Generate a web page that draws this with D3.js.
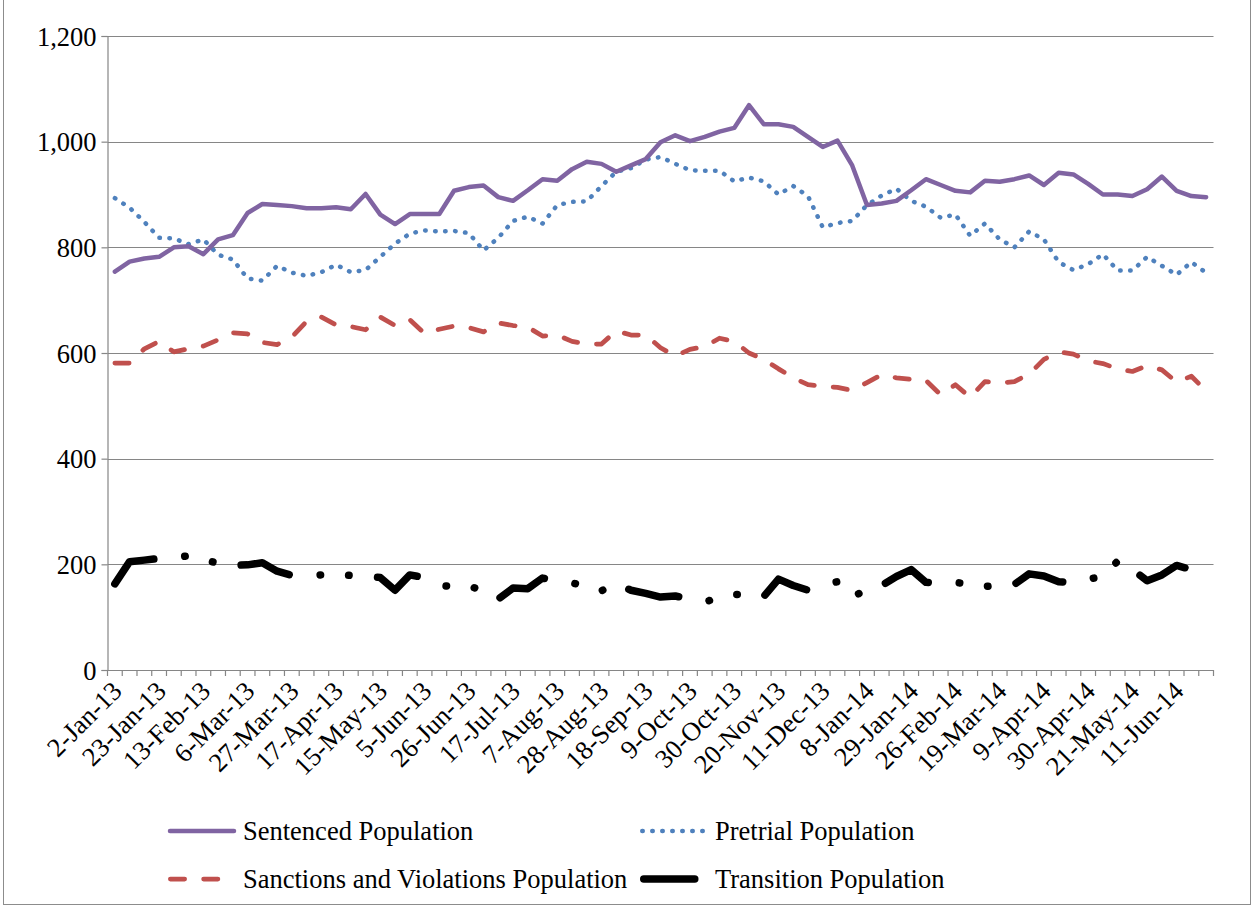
<!DOCTYPE html>
<html>
<head>
<meta charset="utf-8">
<script src="https://cdn.jsdelivr.net/npm/d3@7"></script>
<style>
  html, body { margin: 0; padding: 0; background: #fff; }
  svg { display: block; }
</style>
</head>
<body>
<svg id="chart" width="1254" height="909"></svg>
<script>
const categories = [
  "2-Jan-13","9-Jan-13","16-Jan-13","23-Jan-13","30-Jan-13","6-Feb-13","13-Feb-13","20-Feb-13","27-Feb-13",
  "6-Mar-13","13-Mar-13","20-Mar-13","27-Mar-13","3-Apr-13","10-Apr-13","17-Apr-13","24-Apr-13","8-May-13",
  "15-May-13","22-May-13","29-May-13","5-Jun-13","12-Jun-13","19-Jun-13","26-Jun-13","3-Jul-13","10-Jul-13",
  "17-Jul-13","24-Jul-13","31-Jul-13","7-Aug-13","14-Aug-13","21-Aug-13","28-Aug-13","4-Sep-13","11-Sep-13",
  "18-Sep-13","25-Sep-13","2-Oct-13","9-Oct-13","16-Oct-13","23-Oct-13","30-Oct-13","6-Nov-13","13-Nov-13",
  "20-Nov-13","27-Nov-13","4-Dec-13","11-Dec-13","18-Dec-13","1-Jan-14","8-Jan-14","15-Jan-14","22-Jan-14",
  "29-Jan-14","5-Feb-14","19-Feb-14","26-Feb-14","5-Mar-14","12-Mar-14","19-Mar-14","26-Mar-14","2-Apr-14",
  "9-Apr-14","16-Apr-14","23-Apr-14","30-Apr-14","7-May-14","14-May-14","21-May-14","28-May-14","4-Jun-14",
  "11-Jun-14","18-Jun-14","25-Jun-14"
];

const sentenced = [
  754,773,779,782,800,802,787,815,823,865,882,880,878,874,874,876,872,901,862,844,
  863,863,863,907,914,917,895,888,908,929,926,948,962,958,943,955,967,999,1012,1001,
  1009,1019,1026,1069,1033,1033,1028,1009,990,1002,955,880,883,888,908,929,918,907,904,926,
  924,929,936,918,941,938,920,900,900,897,910,934,907,897,895
];

const pretrial = [
  893,875,848,818,817,806,815,786,777,741,737,765,752,746,753,767,753,757,782,807,
  826,832,830,831,827,794,818,850,858,845,880,886,887,916,943,950,966,971,958,946,
  945,945,925,932,925,900,916,897,838,846,850,880,898,911,888,877,856,862,822,845,
  815,800,830,815,772,757,768,787,756,756,782,765,748,772,752
];

const sanctions = [
  581,581,608,622,602,608,613,625,638,636,620,616,630,660,668,653,650,644,668,652,
  663,637,645,651,648,640,657,652,649,632,634,622,617,617,642,634,634,610,594,607,
  612,628,622,600,588,570,553,540,537,535,529,544,559,553,550,548,521,540,516,546,
  543,546,560,588,602,598,585,580,570,565,576,568,545,556,528
];

const transition = [
  163,205,208,211,213,216,209,202,198,199,203,187,179,179,180,180,179,177,175,151,
  180,175,160,158,159,150,134,155,154,174,168,165,158,150,163,151,145,138,140,134,
  129,137,143,143,139,172,160,151,162,167,140,150,160,177,190,166,165,166,162,158,
  160,162,182,178,167,166,172,177,206,190,169,180,198,190,186
];

const yTicks = [0, 200, 400, 600, 800, 1000, 1200];

const seriesNames = ["Sentenced Population", "Pretrial Population",
                     "Sanctions and Violations Population", "Transition Population"];

const FONT = "Liberation Serif";
const FS = 26.5;
const svg = d3.select("#chart");
const W = 1254, H = 909;
const plot = { left: 107.5, right: 1213.5, top: 36, bottom: 670 };

// outer chart border
svg.append("rect").attr("x", 3.5).attr("y", -1).attr("width", W - 7).attr("height", H - 3.5)
  .attr("fill", "none").attr("stroke", "#8c8c8c").attr("stroke-width", 1);

const x = d3.scaleBand().domain(categories).range([plot.left, plot.right]).paddingInner(0).paddingOuter(0);
const y = d3.scaleLinear().domain([0, 1200]).range([plot.bottom, plot.top]);
const cx = c => x(c) + x.bandwidth() / 2;

const gridColor = "#868686";

// gridlines
svg.append("g").selectAll("line").data(yTicks.filter(d => d > 0)).join("line")
  .attr("x1", plot.left).attr("x2", plot.right)
  .attr("y1", d => Math.round(y(d)) + 0.5).attr("y2", d => Math.round(y(d)) + 0.5)
  .attr("stroke", gridColor).attr("stroke-width", 1.2);

// Y axis
const yAxis = d3.axisLeft(y).tickValues(yTicks).tickSize(6).tickPadding(5)
  .tickFormat(d3.format(","));
const gy = svg.append("g").attr("transform", `translate(${plot.left},0)`).call(yAxis)
  .attr("font-family", FONT).attr("font-size", FS);
gy.select(".domain").attr("stroke", gridColor).attr("stroke-width", 1.2);
gy.selectAll(".tick line").attr("stroke", gridColor).attr("stroke-width", 1.2);
gy.selectAll(".tick text").attr("fill", "#000").attr("dy", "0.34em");

// X axis
const xAxis = d3.axisBottom(x).tickSize(0).tickFormat((d, i) => i % 3 === 0 ? d : "");
const gx = svg.append("g").attr("transform", `translate(0,${plot.bottom})`).call(xAxis)
  .attr("font-family", FONT).attr("font-size", FS);
gx.select(".domain").remove();
svg.append("line").attr("x1", plot.left).attr("x2", plot.right)
  .attr("y1", plot.bottom + 0.5).attr("y2", plot.bottom + 0.5)
  .attr("stroke", gridColor).attr("stroke-width", 1.2);
// tick marks at category boundaries
const bounds = categories.map(c => x(c)).concat([plot.right]);
svg.append("g").selectAll("line").data(bounds).join("line")
  .attr("x1", d => d).attr("x2", d => d)
  .attr("y1", plot.bottom).attr("y2", plot.bottom + 6)
  .attr("stroke", gridColor).attr("stroke-width", 1.2);
gx.selectAll(".tick text")
  .attr("fill", "#000")
  .attr("text-anchor", "end")
  .attr("dy", "0.35em")
  .attr("transform", "translate(2,16) rotate(-45)")
  .attr("x", 0).attr("y", 0);

// lines
const line = d3.line().x((d, i) => cx(categories[i])).y(d => y(d));

const styles = [
  { data: sentenced, color: "#8064A2", width: 4.5, dash: null, cap: "round" },
  { data: pretrial, color: "#4F81BD", width: 4.5, dash: "0.5,9.5", cap: "round" },
  { data: sanctions, color: "#C0504D", width: 4.75, dash: "14.25,19", cap: "round" },
  { data: transition, color: "#000000", width: 7.5, dash: "51,31,0.5,28,0.5,28.5", cap: "round" }
];

// draw order: transition, sanctions, pretrial, sentenced on top
[3, 2, 1, 0].forEach(k => {
  const s = styles[k];
  svg.append("path").datum(s.data)
    .attr("d", line)
    .attr("fill", "none")
    .attr("stroke", s.color)
    .attr("stroke-width", s.width)
    .attr("stroke-linejoin", "round")
    .attr("stroke-linecap", s.cap)
    .attr("stroke-dasharray", s.dash);
});

// legend
const legendItems = [
  { name: seriesNames[0], s: styles[0], x: 168, y: 831 },
  { name: seriesNames[1], s: styles[1], x: 640, y: 831 },
  { name: seriesNames[2], s: styles[2], x: 168, y: 879 },
  { name: seriesNames[3], s: styles[3], x: 640, y: 879 }
];
const lg = svg.append("g").attr("font-family", FONT).attr("font-size", FS);
legendItems.forEach(it => {
  const inset = it.s.cap === "round" && it.s.dash ? it.s.width / 2 : 2;
  lg.append("line")
    .attr("x1", it.x + inset).attr("x2", it.x + 68 - inset)
    .attr("y1", it.y).attr("y2", it.y)
    .attr("stroke", it.s.color).attr("stroke-width", it.s.width)
    .attr("stroke-linecap", it.s.cap)
    .attr("stroke-dasharray", it.s.dash);
  lg.append("text").attr("x", it.x + 75).attr("y", it.y).attr("dy", "0.34em")
    .attr("fill", "#000").text(it.name);
});
</script>
</body>
</html>
